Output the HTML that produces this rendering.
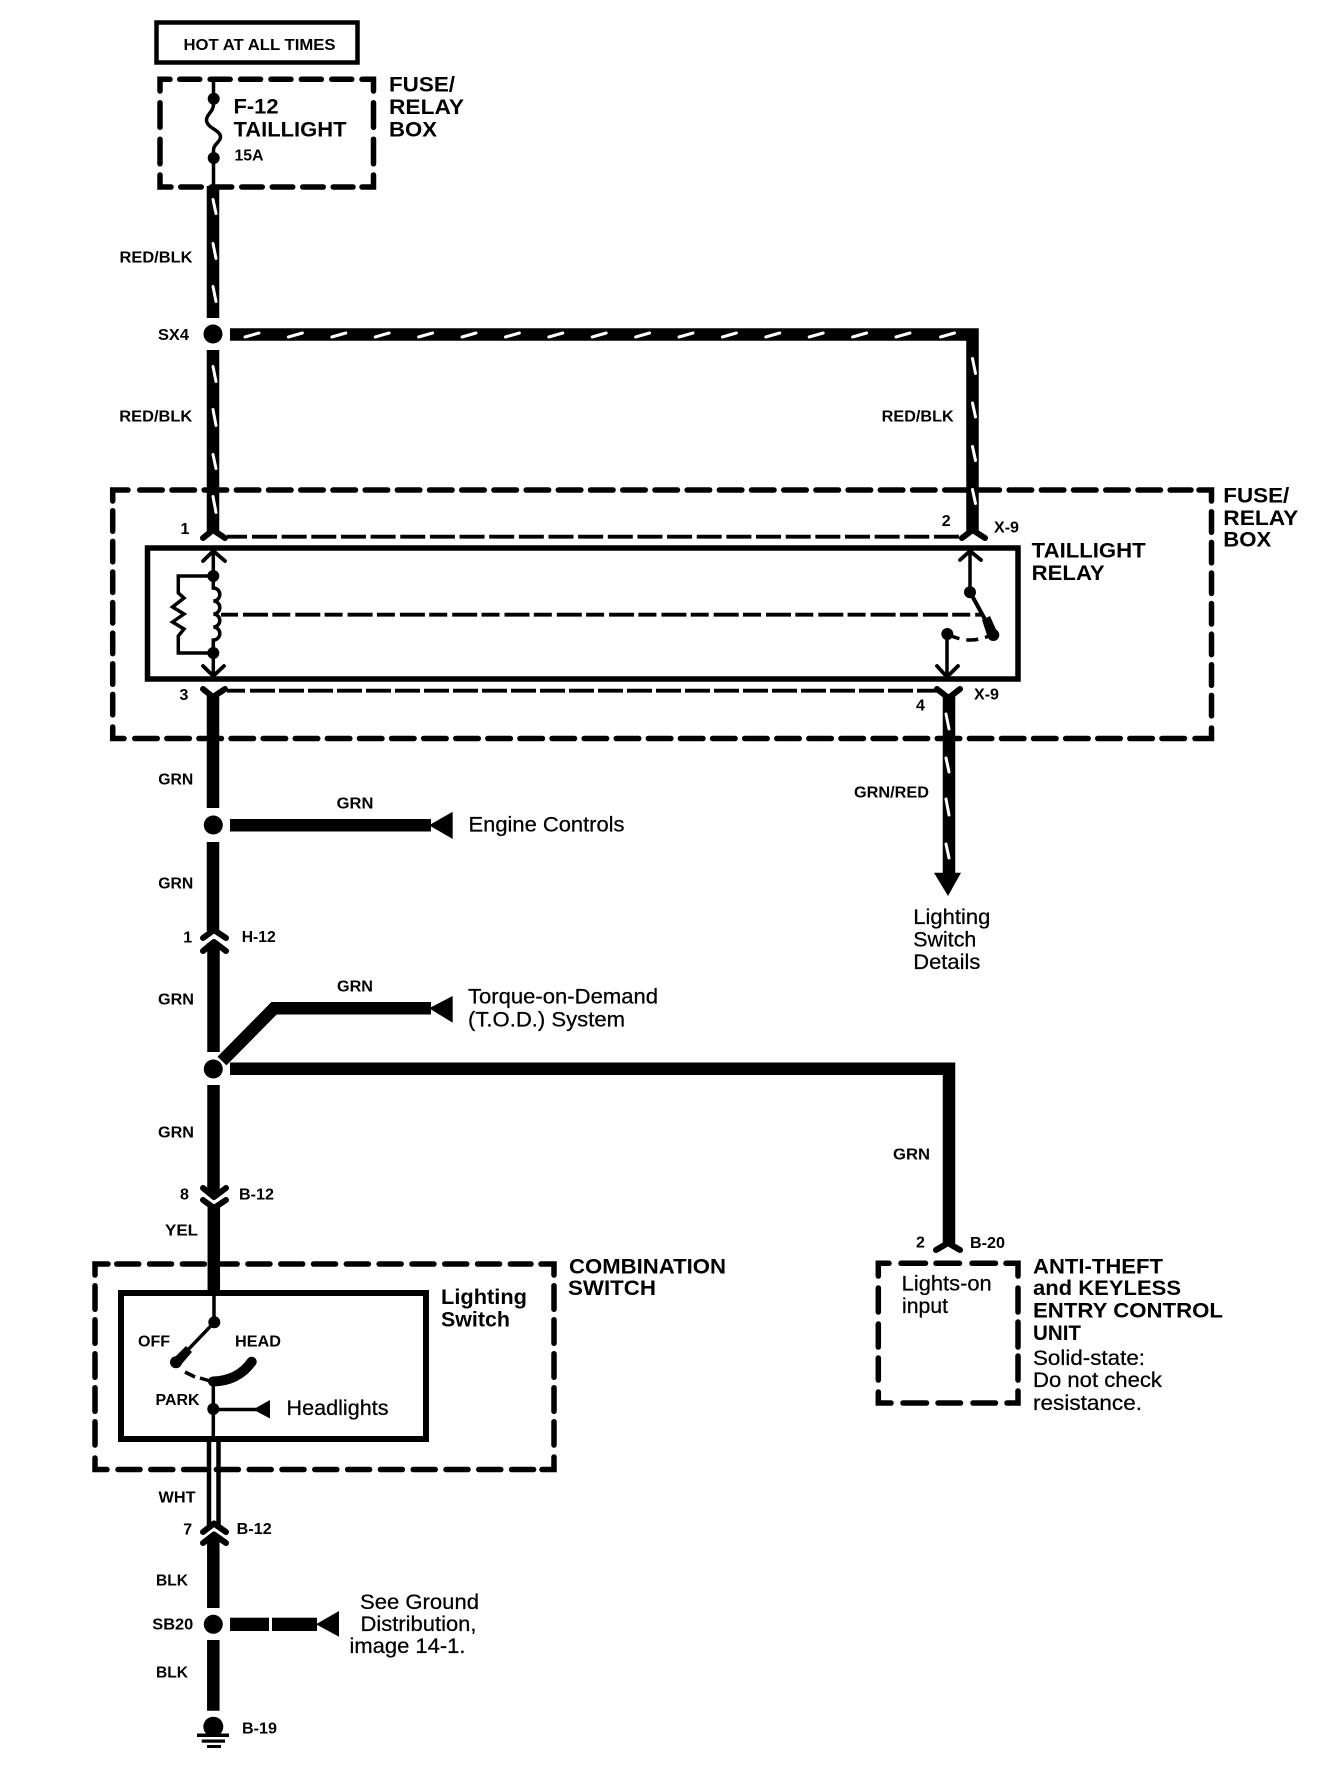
<!DOCTYPE html>
<html><head><meta charset="utf-8"><style>
html,body{margin:0;padding:0;background:#fff}
svg{display:block}
text{font-family:"Liberation Sans",Arial,sans-serif;fill:#000;font-size:16px;font-weight:bold}
.r{font-weight:normal;font-size:21px;stroke:#000;stroke-width:.25}
.b{font-size:21.5px}
.w{stroke:#000;stroke-width:12.5;fill:none}
.t{stroke:#000;stroke-width:3.5;fill:none}
.c{stroke:#000;stroke-width:6;fill:none;stroke-linecap:round;stroke-linejoin:round}
.s{stroke:#fff;stroke-width:3;fill:none;stroke-linecap:round}
.d{stroke:#000;stroke-width:5.5;fill:none;stroke-linecap:round;stroke-linejoin:miter}
.f{stroke:#000;stroke-width:3.8;fill:none}
</style></head><body>
<svg width="1344" height="1782" viewBox="0 0 1344 1782" xmlns="http://www.w3.org/2000/svg">
<rect width="1344" height="1782" fill="#fff"/>

<!-- hot box -->
<rect x="156.5" y="22.5" width="201" height="40" fill="none" stroke="#000" stroke-width="4.5"/>
<text x="183.5" y="50" textLength="152" lengthAdjust="spacingAndGlyphs">HOT AT ALL TIMES</text>

<!-- fuse box -->
<g class="d">
<polyline points="160,91 160,79.3 170,79.3"/>
<line x1="179.75" y1="79.3" x2="353" y2="79.3" stroke-dasharray="20 10.4"/>
<polyline points="362,79.3 373.5,79.3 373.5,91"/>
<line x1="160" y1="102.75" x2="160" y2="164" stroke-dasharray="24.5 12"/>
<line x1="373.5" y1="102.75" x2="373.5" y2="164" stroke-dasharray="24.5 12"/>
<polyline points="160,175 160,187 171,187"/>
<line x1="180.75" y1="187" x2="353" y2="187" stroke-dasharray="20.5 10"/>
<polyline points="362,187 373.5,187 373.5,175"/>
</g>
<path d="M213.5 79V104C213.5 112 206.5 114 206.5 120C206.5 128 220.5 130 220.5 137C220.5 142 213.5 144 213.5 150V188" class="t"/>
<circle cx="213.7" cy="98.7" r="6"/><circle cx="213.7" cy="158" r="6"/>
<text class="b" x="233.5" y="113.7" textLength="45" lengthAdjust="spacingAndGlyphs">F-12</text>
<text class="b" x="233.5" y="136.7" textLength="113" lengthAdjust="spacingAndGlyphs">TAILLIGHT</text>
<text x="234.5" y="160.5" textLength="29" lengthAdjust="spacingAndGlyphs">15A</text>
<text class="b" x="389" y="91.7" textLength="66" lengthAdjust="spacingAndGlyphs">FUSE/</text>
<text class="b" x="389" y="114" textLength="75" lengthAdjust="spacingAndGlyphs">RELAY</text>
<text class="b" x="389" y="136.7" textLength="48" lengthAdjust="spacingAndGlyphs">BOX</text>

<!-- red/blk wires -->
<line class="w" x1="213" y1="186" x2="213" y2="318"/>
<line class="w" x1="213" y1="350" x2="213" y2="531"/>
<polyline class="w" points="230,334.5 972.5,334.5 972.5,531"/>
<circle cx="213" cy="334" r="9.5"/>
<g class="s">
<path d="M213 199.5l3 14M213 243.5l3 15M213 286.5l3 15M213 366.5l3 15M213 409.5l3 16M213 454.5l3 14M213 496.5l3 16"/>
<path d="M972.5 358.5l3 15M972.5 403l3 14M972.5 446.5l3 14M972.5 489.5l3 14"/>
<path d="M245 337l14-4M288.4 337l14-4M331.8 337l14-4M375.2 337l14-4M418.6 337l14-4M462 337l14-4M505.4 337l14-4M548.8 337l14-4M592.2 337l14-4M635.6 337l14-4M679 337l14-4M722.4 337l14-4M765.8 337l14-4M809.2 337l14-4M852.6 337l14-4M896 337l14-4M940.5 337l14-4"/>
</g>
<text x="119.5" y="262.7" textLength="73" lengthAdjust="spacingAndGlyphs">RED/BLK</text>
<text x="158" y="340" textLength="31" lengthAdjust="spacingAndGlyphs">SX4</text>
<text x="119.3" y="421.7" textLength="73" lengthAdjust="spacingAndGlyphs">RED/BLK</text>
<text x="881.7" y="421.7" textLength="72" lengthAdjust="spacingAndGlyphs">RED/BLK</text>

<!-- large dashed fuse box -->
<g class="d">
<polyline points="112.7,501 112.7,490 128,490"/>
<line x1="139.75" y1="490" x2="1191" y2="490" stroke-dasharray="22.5 9.7"/>
<polyline points="1199,490 1211.5,490 1211.5,501"/>
<line x1="112.7" y1="510.75" x2="112.7" y2="716" stroke-dasharray="20.5 10.1"/>
<line x1="1211.5" y1="511.75" x2="1211.5" y2="716" stroke-dasharray="20.5 10.1"/>
<polyline points="112.7,727 112.7,738.5 124,738.5"/>
<line x1="134.75" y1="738.5" x2="1185" y2="738.5" stroke-dasharray="22.5 9.6"/>
<polyline points="1195,738.5 1211.5,738.5 1211.5,728"/>
</g>

<!-- relay -->
<rect x="147.5" y="548" width="870.5" height="131" fill="none" stroke="#000" stroke-width="5.5"/>
<polyline class="c" points="203,538 213,530 225,538"/>
<polyline class="c" points="962,538 972.5,530 985,538"/>
<line class="f" x1="227" y1="536.7" x2="962" y2="536.7" stroke-dasharray="20 5 25 4.65 25 4.65 25 4.65 25 4.65 25 4.65 25 4.65 25 4.65 25 4.65 25 4.65 25 4.65 25 4.65 25 4.65 25 4.65 25 4.65 25 4.65 25 4.65 25 4.65 25 4.65 25 4.65 25 4.65 25 4.65 25 4.65 25 4.65 25 4.65 25 4.65"/>
<line class="f" x1="227" y1="690.7" x2="938" y2="690.7" stroke-dasharray="18 5 25 4 25 4 25 4 25 4 25 4 25 4 25 4 25 4 25 4 25 4 25 4 25 4 25 4 25 4 25 4 25 4 25 4 25 4 25 4 25 4 25 4 25 4 25 4 25 4"/>
<line class="f" x1="220" y1="614.7" x2="981" y2="614.7" stroke-dasharray="18 5 25 4.3"/>

<line class="t" x1="213.3" y1="552" x2="213.3" y2="676"/>
<polyline class="c" style="stroke-width:3.8" points="203,561 213.3,551 225,561"/>
<polyline class="c" style="stroke-width:3.8" points="203,666 213.3,676 224,666"/>
<rect x="207" y="583" width="14" height="58" fill="#fff"/>
<path class="t" d="M213.3 583V588a6.5 6.5 0 0 1 0 13a6.5 6.5 0 0 1 0 13a6.5 6.5 0 0 1 0 13a6.5 6.5 0 0 1 0 13V653"/>
<circle cx="213.3" cy="576" r="6"/><circle cx="213.3" cy="653" r="6"/>
<path class="t" d="M213 576H178.3V593L184 598L172.5 607L184 614L172.5 622L184 629L178.3 636V653H213"/>

<line class="t" x1="970" y1="552" x2="970" y2="592"/>
<polyline class="c" style="stroke-width:3.8" points="960,560 970,551 981,560"/>
<line x1="970" y1="592" x2="993" y2="634" stroke="#000" stroke-width="4"/>
<path d="M982 620L990 616L998 634L988 638Z"/>
<circle cx="970" cy="592.3" r="6"/><circle cx="993.3" cy="635" r="6"/><circle cx="947.3" cy="634" r="6"/>
<path d="M947.3 634Q970 646 993.3 634" fill="none" stroke="#000" stroke-width="3.5" stroke-dasharray="13 7 12 7 12"/>
<line class="t" x1="947" y1="634" x2="947" y2="676"/>
<polyline class="c" style="stroke-width:3.8" points="937,666 947,677 958,666"/>

<polyline class="c" points="203,689 213,697 225,689"/>
<polyline class="c" points="937,689 948.5,698 960,689"/>
<line class="w" x1="213" y1="696" x2="213" y2="808"/>
<line class="w" x1="949" y1="696" x2="949" y2="875"/>
<path d="M934 872.7H961L948 896Z"/>
<g class="s">
<path d="M946 714l3 15M946 758l3 14M946 799l3 16M946 844l3 14"/>
</g>

<text x="180.5" y="534">1</text>
<text x="179.5" y="700">3</text>
<text x="941.7" y="526">2</text>
<text x="994" y="532.7" textLength="25" lengthAdjust="spacingAndGlyphs">X-9</text>
<text x="974" y="699.3" textLength="25" lengthAdjust="spacingAndGlyphs">X-9</text>
<text x="916" y="710.7">4</text>
<text class="b" x="1031.7" y="557.7" textLength="114" lengthAdjust="spacingAndGlyphs">TAILLIGHT</text>
<text class="b" x="1031.7" y="580" textLength="73" lengthAdjust="spacingAndGlyphs">RELAY</text>
<text class="b" x="1223.3" y="502.3" textLength="66" lengthAdjust="spacingAndGlyphs">FUSE/</text>
<text class="b" x="1223.3" y="525" textLength="75" lengthAdjust="spacingAndGlyphs">RELAY</text>
<text class="b" x="1223.3" y="546.7" textLength="48" lengthAdjust="spacingAndGlyphs">BOX</text>
<text x="854" y="797.7" textLength="75" lengthAdjust="spacingAndGlyphs">GRN/RED</text>
<text class="r" x="913.3" y="924" textLength="77" lengthAdjust="spacingAndGlyphs">Lighting</text>
<text class="r" x="913.3" y="946.7" textLength="63" lengthAdjust="spacingAndGlyphs">Switch</text>
<text class="r" x="913.3" y="969" textLength="67" lengthAdjust="spacingAndGlyphs">Details</text>

<!-- engine controls -->
<text x="158.3" y="784.3" textLength="35" lengthAdjust="spacingAndGlyphs">GRN</text>
<text x="336.7" y="808.3" textLength="36.7" lengthAdjust="spacingAndGlyphs">GRN</text>
<circle cx="213.3" cy="825" r="9.5"/>
<line class="w" x1="230" y1="825.3" x2="431" y2="825.3"/>
<path d="M429 825.3L452.7 811.7V839Z"/>
<text class="r" x="468.5" y="831.7" textLength="156" lengthAdjust="spacingAndGlyphs">Engine Controls</text>
<text x="158.3" y="888.3" textLength="35" lengthAdjust="spacingAndGlyphs">GRN</text>
<line class="w" x1="213" y1="842" x2="213" y2="931"/>
<polyline class="c" points="203,938 214,930 226,938"/>
<polyline class="c" points="203,951 214,942 226,951"/>
<line class="w" x1="213.5" y1="943" x2="213.5" y2="1052"/>
<text x="183.3" y="942.3">1</text>
<text x="241.7" y="942" textLength="34" lengthAdjust="spacingAndGlyphs">H-12</text>

<!-- TOD -->
<text x="158" y="1004.5" textLength="36" lengthAdjust="spacingAndGlyphs">GRN</text>
<text x="337" y="991.7" textLength="36" lengthAdjust="spacingAndGlyphs">GRN</text>
<polyline class="w" points="222,1061 274,1008.3 431,1008.3"/>
<path d="M429 1008.3L452.7 996V1022.7Z"/>
<text class="r" x="468" y="1003.3" textLength="190" lengthAdjust="spacingAndGlyphs">Torque-on-Demand</text>
<text class="r" x="468" y="1026.7" textLength="157" lengthAdjust="spacingAndGlyphs">(T.O.D.) System</text>
<circle cx="213.3" cy="1069" r="9.5"/>
<polyline class="w" points="230,1068.7 949,1068.7 949,1244"/>
<text x="893" y="1159.3" textLength="37" lengthAdjust="spacingAndGlyphs">GRN</text>
<polyline class="c" points="936,1250 948,1243 960,1250"/>
<text x="916" y="1247.5">2</text>
<text x="970" y="1247.8" textLength="35" lengthAdjust="spacingAndGlyphs">B-20</text>

<!-- anti-theft box -->
<g class="d">
<polyline points="878.3,1276 878.3,1263.3 889,1263.3"/>
<path d="M901 1263.3H925.5M936 1263.3H959.5M972 1263.3H995.5"/>
<polyline points="1006,1263.3 1018,1263.3 1018,1276"/>
<path d="M878.3 1288V1312M878.3 1324V1347M878.3 1358V1380M1018 1288V1312M1018 1322V1347M1018 1356V1380"/>
<polyline points="878.3,1392 878.3,1403 891,1403"/>
<path d="M903 1403H926.5M938 1403H960.5M973 1403H995.5"/>
<polyline points="1007,1403 1018,1403 1018,1391"/>
</g>
<text class="r" x="901.7" y="1290.7" textLength="90" lengthAdjust="spacingAndGlyphs">Lights-on</text>
<text class="r" x="902" y="1313" textLength="46" lengthAdjust="spacingAndGlyphs">input</text>
<text class="b" x="1033" y="1273.3" textLength="130" lengthAdjust="spacingAndGlyphs">ANTI-THEFT</text>
<text class="b" x="1033" y="1295" textLength="148" lengthAdjust="spacingAndGlyphs">and KEYLESS</text>
<text class="b" x="1033" y="1317.3" textLength="190" lengthAdjust="spacingAndGlyphs">ENTRY CONTROL</text>
<text class="b" x="1033" y="1340" textLength="48" lengthAdjust="spacingAndGlyphs">UNIT</text>
<text class="r" x="1033" y="1365" textLength="112" lengthAdjust="spacingAndGlyphs">Solid-state:</text>
<text class="r" x="1033" y="1387" textLength="129" lengthAdjust="spacingAndGlyphs">Do not check</text>
<text class="r" x="1033" y="1410" textLength="109" lengthAdjust="spacingAndGlyphs">resistance.</text>

<!-- lower main -->
<text x="158" y="1137.3" textLength="36" lengthAdjust="spacingAndGlyphs">GRN</text>
<line class="w" x1="213.5" y1="1085" x2="213.5" y2="1194"/>
<polyline class="c" points="203,1188 214,1197 226,1188"/>
<polyline class="c" points="203,1200 214,1208 226,1200"/>
<line class="w" x1="213.8" y1="1206" x2="213.8" y2="1294"/>
<text x="180" y="1199.3">8</text>
<text x="239" y="1199.3" textLength="35" lengthAdjust="spacingAndGlyphs">B-12</text>
<text x="165" y="1235.5" textLength="33" lengthAdjust="spacingAndGlyphs">YEL</text>

<!-- combination switch -->
<g class="d">
<polyline points="95,1275 95,1264 108,1264"/>
<line x1="116.75" y1="1264" x2="531" y2="1264" stroke-dasharray="22 10.8"/>
<polyline points="541,1264 554,1264 554,1275"/>
<line x1="95" y1="1285.75" x2="95" y2="1445" stroke-dasharray="23.5 10.5"/>
<line x1="554" y1="1285.75" x2="554" y2="1445" stroke-dasharray="23.5 10.5"/>
<polyline points="95,1458 95,1469.5 107,1469.5"/>
<line x1="118" y1="1469.5" x2="534" y2="1469.5" stroke-dasharray="22 10.8"/>
<polyline points="542,1469.5 554,1469.5 554,1457"/>
</g>
<rect x="121" y="1293" width="305" height="146" fill="none" stroke="#000" stroke-width="6"/>
<line class="t" x1="214" y1="1293" x2="214" y2="1322"/>
<circle cx="214.3" cy="1322.3" r="6"/>
<line x1="214.3" y1="1322.3" x2="176" y2="1362.3" stroke="#000" stroke-width="3.5"/>
<path d="M186 1346L192 1352L180 1366L172 1360Z"/>
<circle cx="176" cy="1362.3" r="6"/>
<path d="M185 1372L195 1377M200 1378L210 1381" stroke="#000" stroke-width="3.5" fill="none"/>
<path d="M213 1381.5Q238 1381 251.7 1361.7" stroke="#000" stroke-width="10" fill="none" stroke-linecap="round"/>
<line class="t" x1="213.3" y1="1381" x2="213.3" y2="1439"/>
<circle cx="213.3" cy="1409" r="6"/>
<line class="t" x1="213" y1="1409.5" x2="256" y2="1409.5"/>
<path d="M253 1409.5L270 1400V1418.5Z"/>
<text x="138" y="1346.7" textLength="32" lengthAdjust="spacingAndGlyphs">OFF</text>
<text x="235" y="1346.7" textLength="46" lengthAdjust="spacingAndGlyphs">HEAD</text>
<text x="155.500" y="1405" textLength="44" lengthAdjust="spacingAndGlyphs">PARK</text>
<text class="r" x="286.500" y="1415" textLength="102" lengthAdjust="spacingAndGlyphs">Headlights</text>
<text class="b" x="441" y="1304" textLength="86" lengthAdjust="spacingAndGlyphs">Lighting</text>
<text class="b" x="441" y="1326.5" textLength="69" lengthAdjust="spacingAndGlyphs">Switch</text>
<text class="b" x="569" y="1273.3" textLength="157" lengthAdjust="spacingAndGlyphs">COMBINATION</text>
<text class="b" x="568" y="1295" textLength="88" lengthAdjust="spacingAndGlyphs">SWITCH</text>

<!-- white wire -->
<line x1="209" y1="1440" x2="209" y2="1527" stroke="#000" stroke-width="4.5"/>
<line x1="218.5" y1="1440" x2="218.5" y2="1527" stroke="#000" stroke-width="4.5"/>
<polyline class="c" points="203,1532 214,1523.5 226,1532"/>
<polyline class="c" points="203,1543 214,1534.5 226,1543"/>
<text x="158.5" y="1502.7" textLength="37" lengthAdjust="spacingAndGlyphs">WHT</text>
<text x="183.3" y="1534.3">7</text>
<text x="236.7" y="1534" textLength="35" lengthAdjust="spacingAndGlyphs">B-12</text>

<!-- ground -->
<line class="w" x1="213.3" y1="1536" x2="213.3" y2="1608"/>
<circle cx="213.3" cy="1624.3" r="9.5"/>
<line class="w" x1="213.3" y1="1640" x2="213.3" y2="1710.7"/>
<rect x="230" y="1617.7" width="39" height="13.3"/>
<rect x="272" y="1617.7" width="45" height="13.3"/>
<path d="M316 1624.3L339 1611V1636.7Z"/>
<text x="156" y="1585.7" textLength="32" lengthAdjust="spacingAndGlyphs">BLK</text>
<text x="152.3" y="1629.3" textLength="41" lengthAdjust="spacingAndGlyphs">SB20</text>
<text x="156" y="1677.7" textLength="32" lengthAdjust="spacingAndGlyphs">BLK</text>
<text x="242" y="1733.3" textLength="35" lengthAdjust="spacingAndGlyphs">B-19</text>
<circle cx="213.3" cy="1726.7" r="10"/>
<rect x="197" y="1733.5" width="32" height="3.5"/>
<rect x="201.7" y="1739.5" width="23.3" height="3.2"/>
<rect x="207" y="1745" width="14" height="3"/>
<text class="r" x="360" y="1609" textLength="119" lengthAdjust="spacingAndGlyphs">See Ground</text>
<text class="r" x="360.500" y="1631" textLength="116" lengthAdjust="spacingAndGlyphs">Distribution,</text>
<text class="r" x="349.500" y="1653" textLength="116" lengthAdjust="spacingAndGlyphs">image 14-1.</text>
</svg>
</body></html>
